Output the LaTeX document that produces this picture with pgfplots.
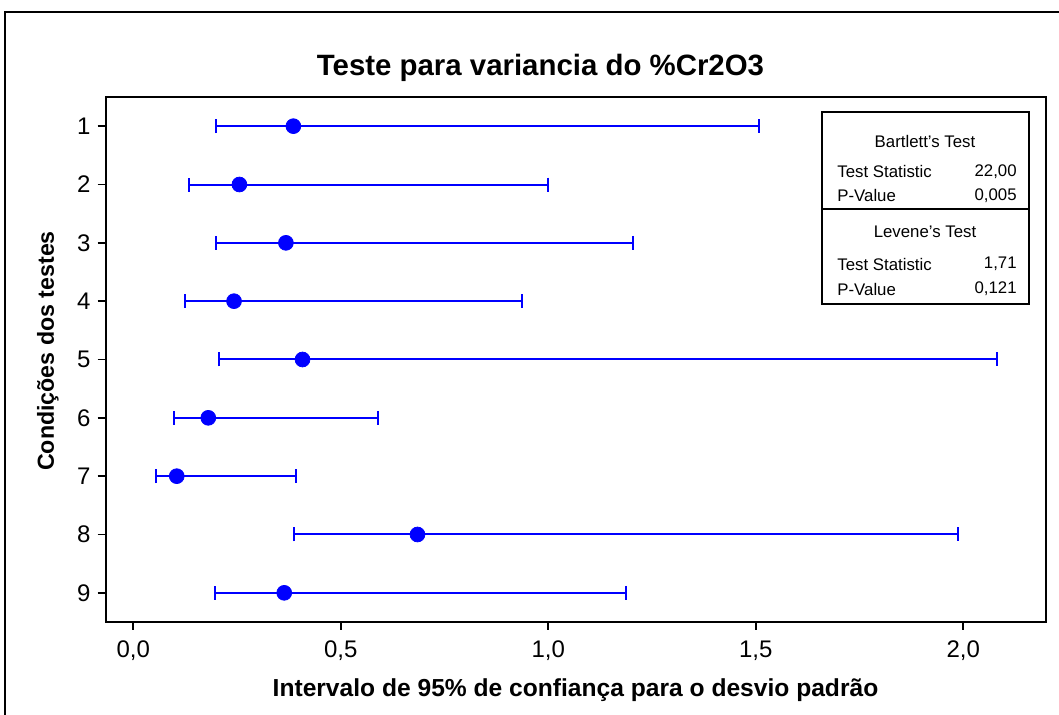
\documentclass[border=0pt]{standalone}
\usepackage{pgfplots}
\pgfplotsset{compat=1.18}
\usepackage{pgfplotstable}
\usepackage{fontspec}
\setmainfont{Liberation Sans}

\pgfplotstableread{
c   m      lo     hi
1   0.386  0.200  1.509
2   0.256  0.134  1.000
3   0.368  0.200  1.205
4   0.243  0.125  0.938
5   0.408  0.206  2.081
6   0.181  0.098  0.591
7   0.105  0.054  0.392
8   0.685  0.388  1.987
9   0.364  0.196  1.187
}\cidata

\begin{document}
\begin{tikzpicture}
\useasboundingbox (0,0) rectangle (529.5pt,-357.5pt);
\begin{scope}[x=0.5pt,y=-0.5pt]
  \draw[line width=0.8pt] (5,12) rectangle (1075,735);
  \node[font=\fontsize{14.7}{17}\selectfont\bfseries] at (540.5,68) {Teste para variancia do \%Cr2O3};
  \node[font=\fontsize{12.3}{14}\selectfont\bfseries] at (575.5,690) {Intervalo de 95\% de confiança para o desvio padrão};
  \node[font=\fontsize{11.6}{14}\selectfont\bfseries, rotate=90] at (48,351) {Condições dos testes};
\end{scope}
\begin{axis}[
  at={(287.875pt,-179.75pt)}, anchor=center,
  scale only axis, width=470.25pt, height=262.5pt,
  xmin=-0.0667, xmax=2.1995, ymin=0.5, ymax=9.5,
  xtick={0,0.5,1,1.5,2}, ytick={1,...,9},
  yticklabels={9,8,7,6,5,4,3,2,1},
  xtick pos=bottom, ytick pos=left,
  tick align=outside, major tick length=4pt,
  every tick/.style={black, line width=0.9pt},
  axis line style={black, line width=1pt},
  tick label style={font=\fontsize{12}{14}\selectfont},
  xticklabel style={yshift=-2pt},
  /pgf/number format/.cd, use comma, fixed, fixed zerofill, precision=1, assume math mode=true,
]
\addplot[only marks, mark=*, blue, mark options={blue, fill=blue}, mark size=3.7pt,
  error bars/.cd, x dir=both, x explicit,
  error bar style={blue, line width=1pt},
  error mark options={blue, line width=1pt, mark size=3.5pt, rotate=90}]
  table[x=m, y expr=10-\thisrow{c},
        x error plus expr=\thisrow{hi}-\thisrow{m},
        x error minus expr=\thisrow{m}-\thisrow{lo}] {\cidata};
\end{axis}
\begin{scope}[x=0.5pt,y=-0.5pt]
  \draw[line width=0.75pt, fill=white] (822,112) rectangle (1029,304);
  \draw[line width=0.75pt] (822,209) -- (1029,209);
  \begin{scope}[every node/.style={font=\fontsize{8.4}{10}\selectfont, inner sep=0pt}]
    \node at (925,142) {Bartlett's Test};
    \node[anchor=west] at (837,172) {Test Statistic};
    \node[anchor=east] at (1017,172) {22,00};
    \node[anchor=west] at (837,196) {P-Value};
    \node[anchor=east] at (1017,196) {0,005};
    \node at (925,232) {Levene's Test};
    \node[anchor=west] at (837,264) {Test Statistic};
    \node[anchor=east] at (1017,264) {1,71};
    \node[anchor=west] at (837,289) {P-Value};
    \node[anchor=east] at (1017,289) {0,121};
  \end{scope}
\end{scope}
\end{tikzpicture}
\end{document}
